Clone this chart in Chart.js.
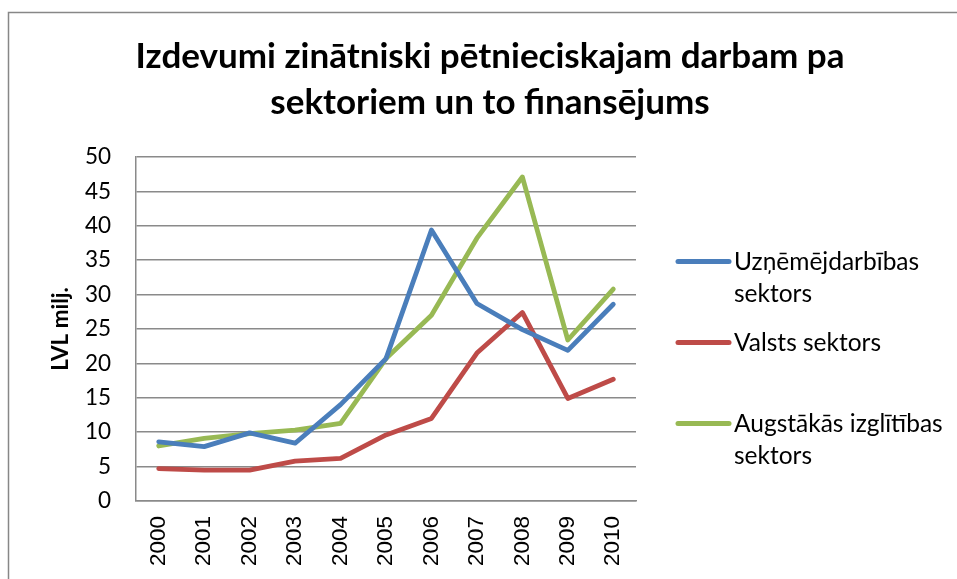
<!DOCTYPE html>
<html>
<head>
<meta charset="utf-8">
<script src="https://cdn.jsdelivr.net/npm/chart.js@4.4.1/dist/chart.umd.min.js"></script>
<style>
  html, body { margin: 0; padding: 0; background: #fff; }
  canvas { display: block; }
</style>
</head>
<body>
<canvas id="rndChart" width="957" height="579"></canvas>
<script>
const titleLines = ['Izdevumi zinātniski pētnieciskajam darbam pa', 'sektoriem un to finansējums'];
const years = ['2000', '2001', '2002', '2003', '2004', '2005', '2006', '2007', '2008', '2009', '2010'];
const seriesNames = ['Uzņēmējdarbības sektors', 'Valsts sektors', 'Augstākās izglītības sektors'];
const uznemejdarbiba = [8.6, 7.9, 9.9, 8.4, 14.0, 20.7, 39.4, 28.7, 24.9, 21.9, 28.6];
const valsts = [4.7, 4.5, 4.5, 5.8, 6.2, 9.6, 12.0, 21.5, 27.4, 14.9, 17.7];
const augstakas = [8.0, 9.1, 9.8, 10.3, 11.3, 20.7, 27.0, 38.2, 47.1, 23.4, 30.8];
const yTicks = [0, 5, 10, 15, 20, 25, 30, 35, 40, 45, 50];
const colors = ['#4a7ebb', '#be4b48', '#98b954'];

const ctx = document.getElementById('rndChart').getContext('2d');

// frame, title and a wrapped legend drawn on the canvas
const decor = {
    id: 'decor',
    beforeDraw(chart) {
        const c = chart.ctx;
        c.save();
        c.fillStyle = '#fff';
        c.fillRect(0, 0, chart.width, chart.height);
        c.strokeStyle = '#878787';
        c.lineWidth = 1.5;
        c.strokeRect(8.5, 12.5, chart.width + 10, chart.height + 10);
        c.restore();
    },
    afterDraw(chart) {
        const c = chart.ctx;
        const area = chart.chartArea;
        c.save();
        c.fillStyle = '#000';
        c.textAlign = 'center';
        c.textBaseline = 'middle';
        c.font = 'bold 35px Lato';
        titleLines.forEach((t, i) => c.fillText(t, 490, 57 + i * 46));

        c.font = '24.5px Lato';
        c.textAlign = 'left';
        c.textBaseline = 'alphabetic';
        const textX = area.right + 98;
        const maxW = chart.width - textX - 8;
        let base = area.top + 113;
        chart.data.datasets.forEach((ds) => {
            const words = ds.label.split(' ');
            const lines = [];
            let cur = '';
            words.forEach(w => {
                const test = cur ? cur + ' ' + w : w;
                if (cur && c.measureText(test).width > maxW) {
                    lines.push(cur);
                    cur = w;
                } else {
                    cur = test;
                }
            });
            lines.push(cur);

            c.strokeStyle = ds.borderColor;
            c.lineWidth = 5;
            c.lineCap = 'round';
            c.beginPath();
            c.moveTo(area.right + 42, base - 8.5);
            c.lineTo(area.right + 93, base - 8.5);
            c.stroke();

            lines.forEach((l, i) => c.fillText(l, textX, base + i * 31.5));
            base += 81;
        });
        c.restore();
    }
};

const rndChart = new Chart(ctx, {
    type: 'line',
    data: {
        labels: years,
        datasets: [
            { label: seriesNames[0], data: uznemejdarbiba, borderColor: colors[0] },
            { label: seriesNames[1], data: valsts, borderColor: colors[1] },
            { label: seriesNames[2], data: augstakas, borderColor: colors[2] }
        ]
    },
    options: {
        responsive: false,
        maintainAspectRatio: false,
        animation: false,
        layout: {
            padding: { top: 157, right: 321, left: 0, bottom: 0 }
        },
        elements: {
            line: { borderWidth: 4.8, tension: 0, borderCapStyle: 'round', borderJoinStyle: 'round' },
            point: { radius: 0, hoverRadius: 0 }
        },
        plugins: {
            legend: { display: false },
            title: { display: false },
            tooltip: { enabled: false }
        },
        scales: {
            x: {
                offset: true,
                grid: { display: false, drawTicks: false },
                border: { display: true, color: '#8a8a8a', width: 1.5 },
                ticks: {
                    minRotation: 90,
                    maxRotation: 90,
                    padding: 15,
                    color: '#000',
                    font: { family: 'Liberation Sans', size: 22.5 }
                },
                afterFit(scale) { scale.height = 78; }
            },
            y: {
                min: 0,
                max: 50,
                afterBuildTicks(scale) { scale.ticks = yTicks.map(v => ({ value: v })); },
                grid: { color: '#8a8a8a', lineWidth: 1.5, drawTicks: false },
                border: { display: true, color: '#8a8a8a', width: 1.5 },
                ticks: {
                    padding: 25,
                    color: '#000',
                    font: { family: 'Lato', size: 22.5 }
                },
                title: {
                    display: true,
                    text: 'LVL milj.',
                    color: '#000',
                    font: { family: 'Lato', size: 22.5, weight: 'bold' },
                    padding: { top: 47, bottom: 0 }
                },
                afterFit(scale) { scale.width = 136; }
            }
        }
    },
    plugins: [decor]
});
</script>
</body>
</html>
